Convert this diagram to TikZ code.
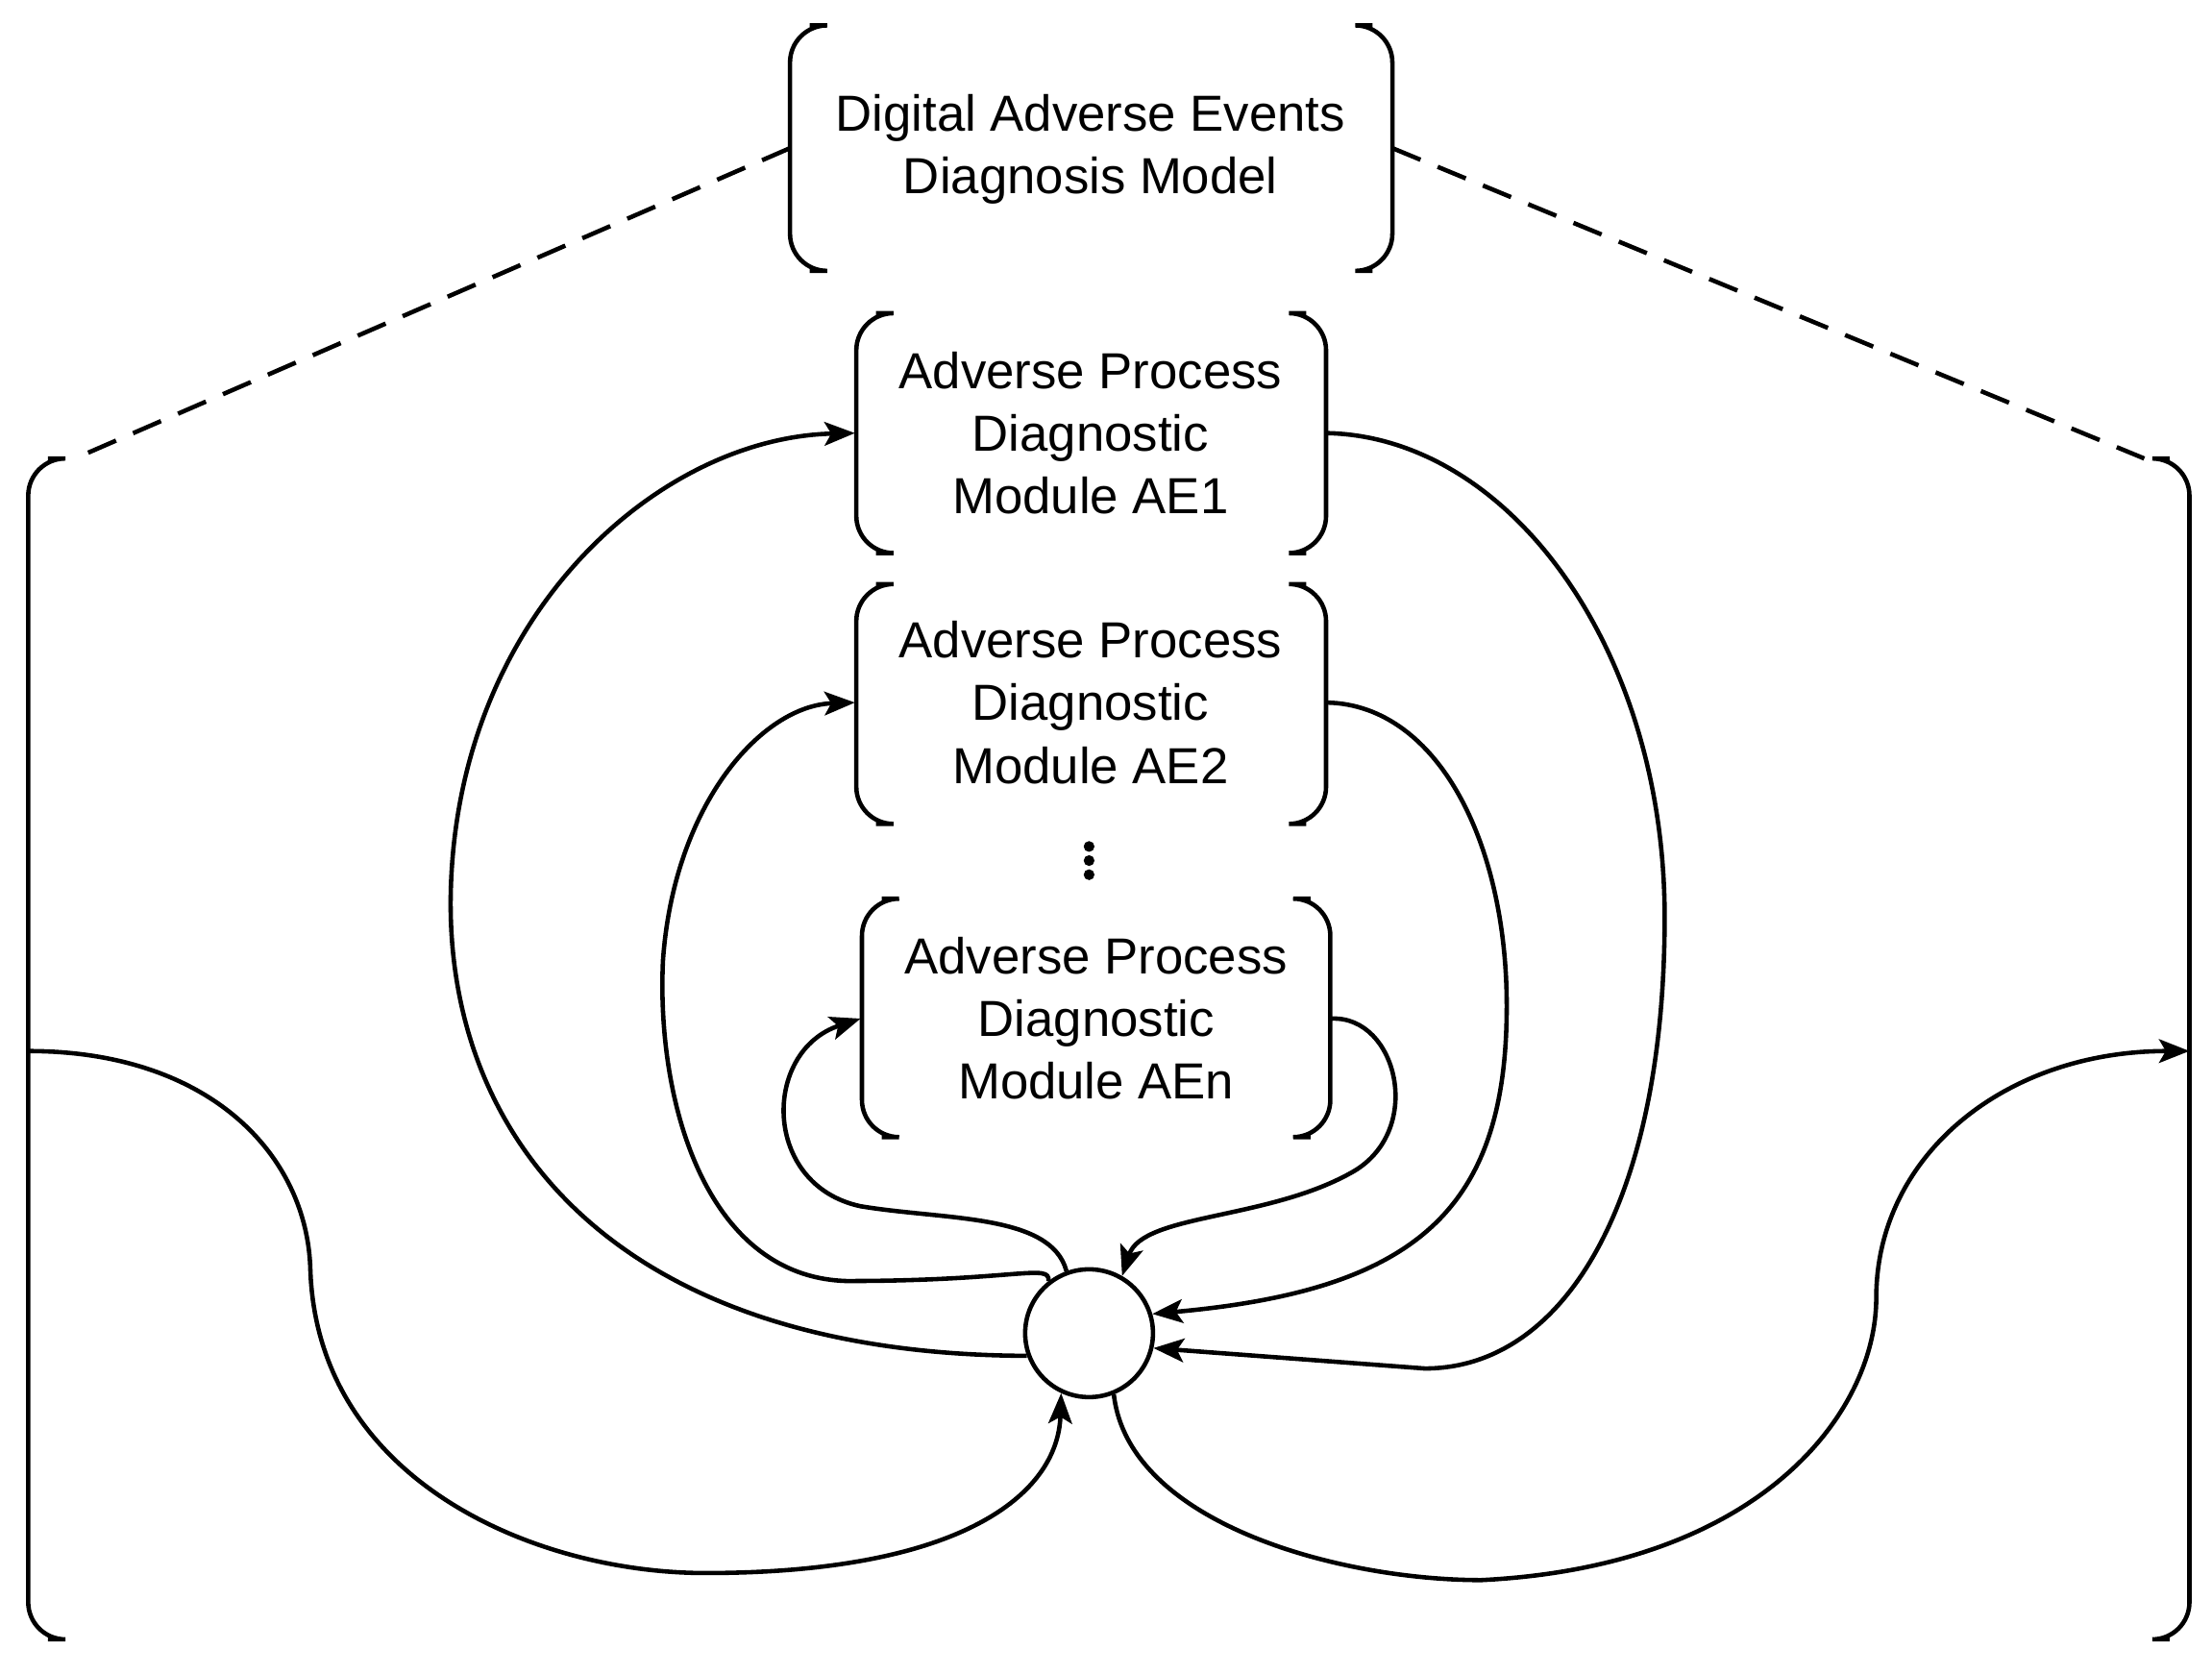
\documentclass[tikz,border=0pt]{standalone}
\usepackage{fontspec}
\setmainfont{Liberation Sans}
\usetikzlibrary{arrows.meta}
\begin{document}
\begin{tikzpicture}[x=0.01468cm,y=-0.01468cm,line width=1.3pt,
  txt/.style={align=center,font=\fontsize{15}{18.5}\selectfont},
  arr/.style={-{Stealth[length=9pt,width=7pt,inset=2pt]}},
  brk/.style={rounded corners=11pt}]
\useasboundingbox (0,0) rectangle (1568,1186);
% bracket boxes
\newcommand{\brbox}[4]{%
 \draw[brk] (#1+14,#3) -- (#1,#3) -- (#1,#4) -- (#1+14,#4);
 \draw[brk] (#2-14,#3) -- (#2,#3) -- (#2,#4) -- (#2-14,#4);}
\brbox{560}{987}{18}{192}
\brbox{607}{940}{222}{392}
\brbox{607}{940}{414}{584}
\brbox{611}{943}{637}{806}
\brbox{20}{1552}{325}{1162}
\node[txt] (top) at (773,106) {Digital Adverse Events\\Diagnosis Model};
\node[txt] (m1) at (773,307) {Adverse Process\\Diagnostic\\Module AE1};
\node[txt] (m2) at (773,498) {Adverse Process\\Diagnostic\\Module AE2};
\node[txt] (mn) at (777,722) {Adverse Process\\Diagnostic\\Module AEn};
\node[inner sep=0pt,minimum size=2pt] (dots) at (772,610) {};
\foreach \d in {-10,0,10} \fill (772,610+\d) circle (1.6pt);
\node[draw,circle,minimum size=1.33cm,inner sep=0pt] (c) at (772,945) {};
\coordinate (tl) at (560,105); \coordinate (tr) at (987,105);
\coordinate (bl) at (53,325); \coordinate (br) at (1520,325);
\coordinate (m1w) at (606,307); \coordinate (m1e) at (941,307);
\coordinate (m2w) at (606,498); \coordinate (m2e) at (941,498);
\coordinate (mnw) at (610,722); \coordinate (mne) at (944,722);
\coordinate (L) at (20,745); \coordinate (R) at (1552,745);
\draw[dash pattern=on 9pt off 5.5pt] (tl) -- (bl);
\draw[dash pattern=on 9pt off 5.5pt] (tr) -- (br);
% left curves
\draw[arr] (c.200) .. controls (430,960) and (310,800) .. (320,620)
  .. controls (330,430) and (470,310) .. (m1w);
\draw[arr] (c.128) .. controls (745,895) and (720,908) .. (600,908)
  .. controls (500,905) and (465,780) .. (470,680)
  .. controls (478,570) and (540,500) .. (m2w);
\draw[arr] (c.110) .. controls (745,860) and (670,865) .. (610,855)
  .. controls (540,840) and (540,745) .. (mnw);
% right curves
\draw[arr] (m1e) .. controls (1070,310) and (1180,460) .. (1180,650)
  .. controls (1180,850) and (1110,970) .. (1010,970) -- (c.-13);
\draw[arr] (m2e) .. controls (1020,500) and (1070,600) .. (1068,720)
  .. controls (1066,860) and (1000,915) .. (c.17);
\draw[arr] (mne) .. controls (990,720) and (1010,800) .. (960,830)
  .. controls (900,865) and (810,860) .. (c.60);
% outer curves
\draw[arr] (L) .. controls (150,745) and (218,820) .. (220,900)
  .. controls (225,1050) and (380,1115) .. (500,1115)
  .. controls (680,1115) and (750,1060) .. (c.-115);
\draw[arr] (c.-68) .. controls (800,1080) and (950,1120) .. (1050,1120)
  .. controls (1250,1110) and (1330,1000) .. (1330,920)
  .. controls (1330,820) and (1420,745) .. (R);
\end{tikzpicture}
\end{document}
